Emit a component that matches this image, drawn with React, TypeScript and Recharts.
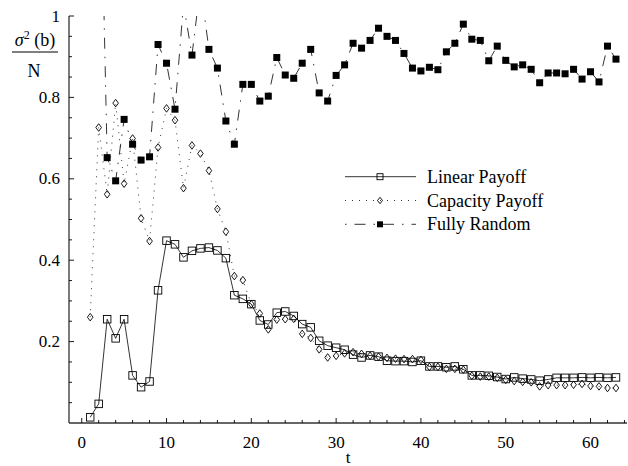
import { Legend, Line, LineChart, XAxis, YAxis } from 'recharts'

const FONT = "'Liberation Serif', 'Times New Roman', Times, 'DejaVu Serif', serif"
const TXT = { fontFamily: FONT }

const t = [
  1, 2, 3, 4, 5, 6, 7, 8, 9, 10, 11, 12, 13, 14, 15, 16, 17, 18, 19, 20, 21,
  22, 23, 24, 25, 26, 27, 28, 29, 30, 31, 32, 33, 34, 35, 36, 37, 38, 39, 40, 41, 42,
  43, 44, 45, 46, 47, 48, 49, 50, 51, 52, 53, 54, 55, 56, 57, 58, 59, 60, 61, 62, 63,
]

const linearPayoff = [
  0.014, 0.047, 0.255, 0.208, 0.255, 0.117, 0.088, 0.102, 0.326, 0.448, 0.439,
  0.407, 0.423, 0.429, 0.431, 0.424, 0.405, 0.314, 0.305, 0.292, 0.252,
  0.242, 0.271, 0.274, 0.263, 0.243, 0.235, 0.202, 0.19, 0.185, 0.18,
  0.168, 0.161, 0.166, 0.163, 0.153, 0.152, 0.152, 0.15, 0.153, 0.139,
  0.139, 0.137, 0.139, 0.132, 0.117, 0.117, 0.116, 0.113, 0.108, 0.112,
  0.109, 0.107, 0.104, 0.107, 0.111, 0.111, 0.111, 0.112, 0.111, 0.112,
  0.111, 0.112,
]

const capacityPayoff = [
  0.26, 0.726, 0.562, 0.786, 0.588, 0.699, 0.503, 0.447, 0.677, 0.773, 0.744,
  0.577, 0.682, 0.662, 0.62, 0.526, 0.47, 0.361, 0.351, 0.292, 0.269,
  0.23, 0.254, 0.255, 0.256, 0.219, 0.209, 0.181, 0.161, 0.165, 0.171,
  0.174, 0.17, 0.165, 0.163, 0.16, 0.158, 0.157, 0.157, 0.155, 0.138,
  0.138, 0.133, 0.133, 0.131, 0.116, 0.114, 0.114, 0.111, 0.106, 0.103,
  0.101, 0.1, 0.09, 0.093, 0.093, 0.093, 0.094, 0.096, 0.091, 0.09,
  0.086, 0.086,
]

// t=1 not visible, t=2/12/14 run off the top of the frame
const fullyRandom = [
  null, 1.6, 0.652, 0.595, 0.746, 0.685, 0.646, 0.654, 0.93, 0.884, 0.771,
  1.03, 0.904, 1.075, 0.918, 0.872, 0.742, 0.685, 0.832, 0.832, 0.791,
  0.803, 0.898, 0.855, 0.847, 0.884, 0.918, 0.811, 0.791, 0.854, 0.88,
  0.933, 0.921, 0.94, 0.97, 0.95, 0.94, 0.908, 0.872, 0.865, 0.874,
  0.868, 0.912, 0.933, 0.98, 0.943, 0.94, 0.89, 0.926, 0.891, 0.875,
  0.88, 0.869, 0.836, 0.86, 0.86, 0.858, 0.869, 0.845, 0.863, 0.838,
  0.926, 0.894,
]

const xTicks = [
  0, 2, 4, 6, 8, 10, 12, 14, 16, 18, 20, 22, 24, 26, 28, 30, 32, 34, 36, 38, 40,
  42, 44, 46, 48, 50, 52, 54, 56, 58, 60, 62, 64,
]
const xLabels = [0, 10, 20, 30, 40, 50, 60]

const yTicks = [
  0.05, 0.1, 0.15, 0.2, 0.25, 0.3, 0.35, 0.4, 0.45, 0.5, 0.55, 0.6, 0.65, 0.7,
  0.75, 0.8, 0.85, 0.9, 0.95, 1,
]
const yLabels: Record<string, string> = { '0.2': '0.2', '0.4': '0.4', '0.6': '0.6', '0.8': '0.8', '1': '1' }

const data = t.map((v, i) => ({
  t: v,
  linear: linearPayoff[i],
  capacity: capacityPayoff[i],
  random: fullyRandom[i],
}))

const RANDOM_DASH = '1.5 8 11 8'
const CAPACITY_DASH = '1 6'

function squareOpen(cx: number, cy: number, s: number, key?: string) {
  return <rect key={key} x={cx - s / 2} y={cy - s / 2} width={s} height={s} fill="none" stroke="#000" strokeWidth={0.9} />
}
function diamond(cx: number, cy: number, w: number, h: number, key?: string) {
  return (
    <polygon
      key={key}
      points={`${cx},${cy - h} ${cx + w},${cy} ${cx},${cy + h} ${cx - w},${cy}`}
      fill="none"
      stroke="#000"
      strokeWidth={0.9}
    />
  )
}
function squareFilled(cx: number, cy: number, s: number, key?: string) {
  return <rect key={key} x={cx - s / 2} y={cy - s / 2} width={s} height={s} fill="#000" />
}

const dotGuard = (p: any) => p.cx == null || p.cy == null || p.value == null

const LinearDot = (p: any) =>
  dotGuard(p) ? <g key={`l-${p.index}`} /> : squareOpen(p.cx, p.cy, 7.5, `l-${p.index}`)
const CapacityDot = (p: any) =>
  dotGuard(p) ? <g key={`c-${p.index}`} /> : diamond(p.cx, p.cy, 2.8, 3.8, `c-${p.index}`)
const RandomDot = (p: any) =>
  dotGuard(p) ? <g key={`r-${p.index}`} /> : squareFilled(p.cx, p.cy, 7, `r-${p.index}`)

const BottomTick = ({ x, y, payload }: any) => {
  const major = xLabels.includes(payload.value)
  return (
    <g>
      <line x1={x} x2={x} y1={y} y2={y - (major ? 5 : 3)} stroke="#000" strokeWidth={0.9} />
      {major && (
        <text x={x} y={y + 19} textAnchor="middle" dominantBaseline="central" fontSize={17} style={TXT} fill="#000">
          {payload.value}
        </text>
      )}
    </g>
  )
}

const TopTick = ({ x, y, payload }: any) => {
  const major = xLabels.includes(payload.value)
  return <line x1={x} x2={x} y1={y} y2={y + (major ? 5 : 3)} stroke="#000" strokeWidth={0.9} />
}

const LeftTick = ({ x, y, payload }: any) => {
  const label = yLabels[String(payload.value)]
  return (
    <g>
      <line x1={x} x2={x + (label ? 5 : 3)} y1={y} y2={y} stroke="#000" strokeWidth={0.9} />
      {label && (
        <text x={x - 9} y={y} textAnchor="end" dominantBaseline="central" fontSize={17} style={TXT} fill="#000">
          {label}
        </text>
      )}
    </g>
  )
}

const RightTick = ({ x, y, payload }: any) => {
  const label = yLabels[String(payload.value)]
  return <line x1={x} x2={x - (label ? 5 : 3)} y1={y} y2={y} stroke="#000" strokeWidth={0.9} />
}

const YLabel = () => (
  <g fill="#000">
    <text x={35} y={46} textAnchor="middle" fontSize={18} style={TXT}>
      <tspan fontStyle="italic">σ</tspan>
      <tspan dy={-7} fontSize={12}>2</tspan>
      <tspan dy={7}> (b)</tspan>
    </text>
    <line x1={12} x2={58} y1={52} y2={52} stroke="#000" strokeWidth={1} />
    <text x={34} y={77} textAnchor="middle" fontSize={18} style={TXT}>
      N
    </text>
  </g>
)

const XLabel = ({ viewBox }: any) => (
  <text
    x={viewBox.x + viewBox.width / 2}
    y={viewBox.y + 34}
    textAnchor="middle"
    dominantBaseline="central"
    fontSize={17}
    style={TXT}
    fill="#000"
  >
    t
  </text>
)

const legendRows = [
  { name: 'Linear Payoff', dash: undefined, marker: (cx: number, cy: number) => squareOpen(cx, cy, 6) },
  { name: 'Capacity Payoff', dash: CAPACITY_DASH, marker: (cx: number, cy: number) => diamond(cx, cy, 2.5, 3.2) },
  { name: 'Fully Random', dash: RANDOM_DASH, marker: (cx: number, cy: number) => squareFilled(cx, cy, 6) },
]

const LegendBox = () => (
  <svg width={230} height={74} style={{ display: 'block' }}>
    {legendRows.map((r, i) => {
      const cy = 12.7 + i * 23.8
      return (
        <g key={r.name}>
          <line x1={5} x2={76} y1={cy} y2={cy} stroke="#000" strokeWidth={0.8} strokeDasharray={r.dash} />
          {r.marker(40, cy)}
          <text x={87} y={cy} dominantBaseline="central" fontSize={18} style={TXT} fill="#000">
            {r.name}
          </text>
        </g>
      )
    })}
  </svg>
)

export default function App() {
  return (
    <div style={{ position: 'absolute', left: 0, top: 0, background: '#fff', fontFamily: FONT }}>
      <style>{'body{margin:0;background:#fff}'}</style>
      <LineChart width={628} height={466} data={data} margin={{ top: 16, right: 1, bottom: 0, left: 0 }}>
        <XAxis
          dataKey="t"
          type="number"
          domain={[-1.5, 64.3]}
          allowDataOverflow
          ticks={xTicks}
          interval={0}
          tickSize={0}
          tickMargin={0}
          tickLine={false}
          tick={BottomTick}
          height={43}
          axisLine={{ stroke: '#333', strokeWidth: 1.3 }}
          label={<XLabel />}
        />
        <XAxis
          xAxisId="top"
          orientation="top"
          dataKey="t"
          type="number"
          domain={[-1.5, 64.3]}
          allowDataOverflow
          ticks={xTicks}
          interval={0}
          tickSize={0}
          tickMargin={0}
          tickLine={false}
          tick={TopTick}
          height={0}
          axisLine={{ stroke: '#333', strokeWidth: 1.3 }}
        />
        <YAxis
          type="number"
          domain={[0, 1]}
          allowDataOverflow
          ticks={yTicks}
          interval={0}
          tickSize={0}
          tickMargin={0}
          tickLine={false}
          tick={LeftTick}
          width={69}
          axisLine={{ stroke: '#333', strokeWidth: 1.3 }}
          label={<YLabel />}
        />
        <YAxis
          yAxisId="right"
          orientation="right"
          type="number"
          domain={[0, 1]}
          allowDataOverflow
          ticks={yTicks}
          interval={0}
          tickSize={0}
          tickMargin={0}
          tickLine={false}
          tick={RightTick}
          width={0}
          axisLine={{ stroke: '#333', strokeWidth: 1.3 }}
        />
        <Legend
          layout="vertical"
          align="center"
          verticalAlign="middle"
          wrapperStyle={{ left: 340, top: 164, width: 230, height: 74 }}
          content={<LegendBox />}
        />
        <Line
          dataKey="random"
          stroke="#000"
          strokeWidth={0.8}
          strokeDasharray={RANDOM_DASH}
          dot={RandomDot}
          activeDot={false}
          isAnimationActive={false}
          connectNulls={false}
        />
        <Line
          dataKey="capacity"
          stroke="#000"
          strokeWidth={0.8}
          strokeDasharray={CAPACITY_DASH}
          dot={CapacityDot}
          activeDot={false}
          isAnimationActive={false}
        />
        <Line
          dataKey="linear"
          stroke="#000"
          strokeWidth={0.8}
          dot={LinearDot}
          activeDot={false}
          isAnimationActive={false}
        />
      </LineChart>
    </div>
  )
}
